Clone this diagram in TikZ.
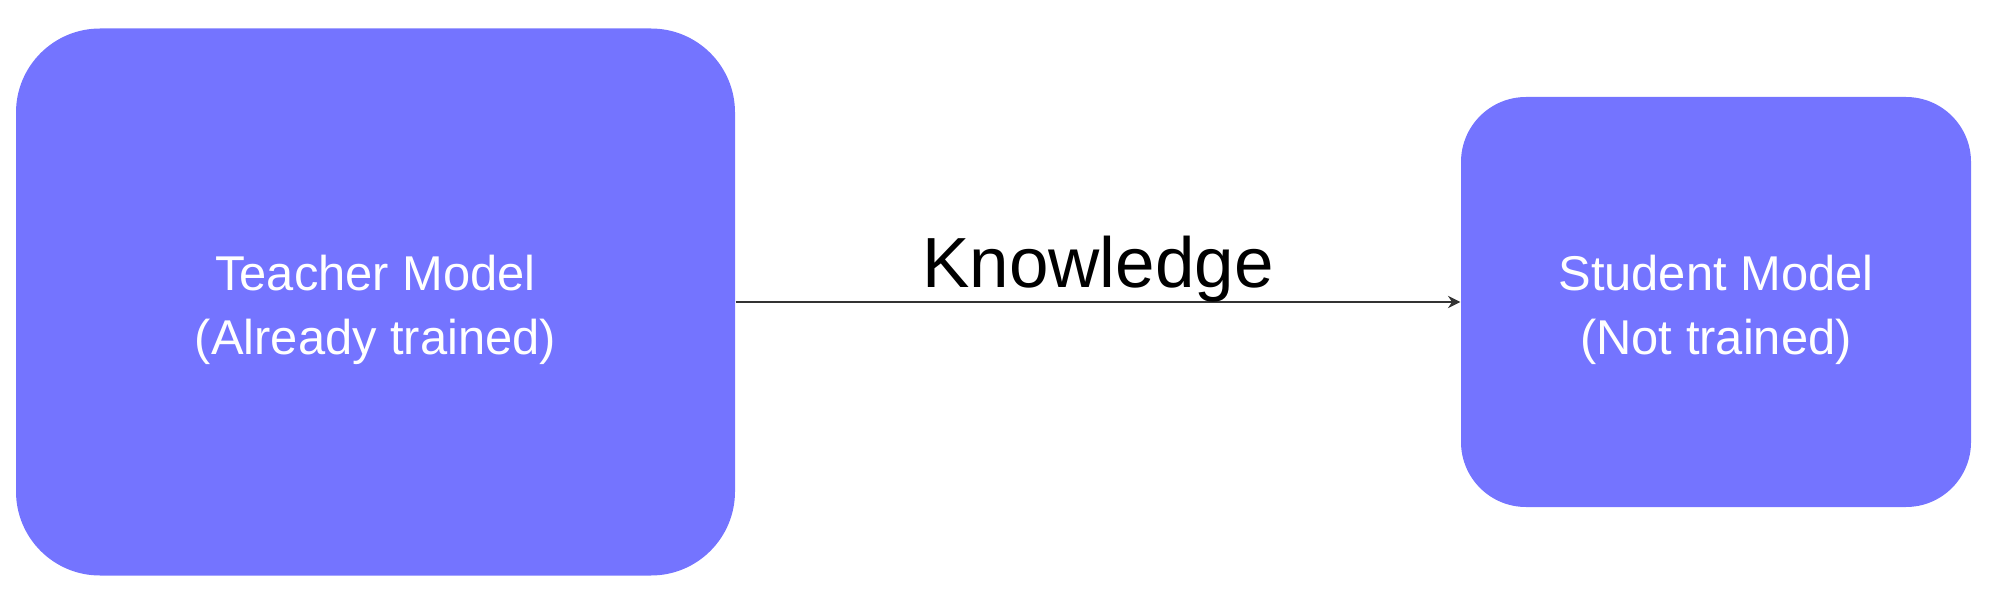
\documentclass[tikz,border=0pt]{standalone}
\usepackage{fontspec}
\setmainfont{Liberation Sans}
\usepackage{xcolor}
\usetikzlibrary{arrows.meta}
\definecolor{boxblue}{RGB}{116,116,255}
\definecolor{arrowgray}{RGB}{51,51,51}

\begin{document}
\begin{tikzpicture}[
  model/.style={fill=boxblue, draw=none, inner sep=0pt},
  modeltext/.style={text=white, align=center, inner sep=0pt, yshift=-0.075cm,
    font=\fontsize{13.9}{18.2}\selectfont},
  flow/.style={draw=arrowgray, line width=0.5pt, -{Stealth[length=3.5pt,width=3.5pt]}}
]

\useasboundingbox (0,0) rectangle (20,5.97);

% teacher and student
\node[model, rounded corners=0.84cm, minimum width=7.19cm, minimum height=5.47cm]
  (teacher) at (3.755,2.95) {};
\node[modeltext] (teachertext) at (teacher) {Teacher Model\\(Already trained)};

\node[model, rounded corners=0.65cm, minimum width=5.10cm, minimum height=4.10cm]
  (student) at (17.16,2.95) {};
\node[modeltext] (studenttext) at (student) {Student Model\\(Not trained)};

% knowledge transfer
\draw[flow] (teacher.east) -- (student.west)
  node[midway, anchor=base, yshift=0.15cm, font=\fontsize{20.2}{24}\selectfont] (knowledge) {Knowledge};

\end{tikzpicture}
\end{document}
